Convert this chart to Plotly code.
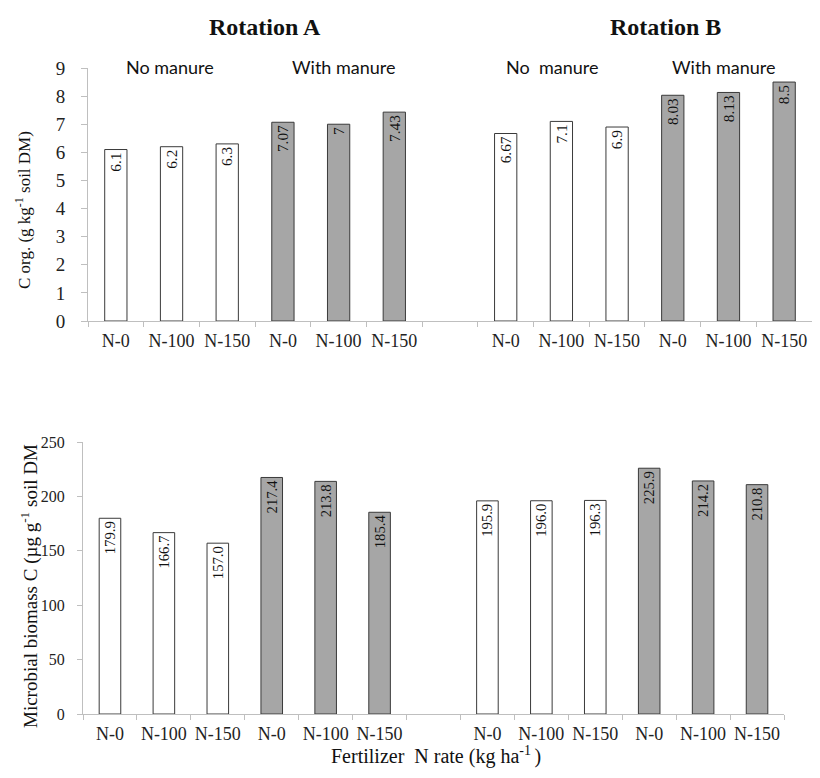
import plotly.graph_objects as go

W, H = 820, 778          # browser window
OFF = 8                  # default body margin of the html page
FW, FH = W - 2 * OFF, H - 2 * OFF   # figure fits the window without scrolling

# ---- data ----
n_labels = ["N-0", "N-100", "N-150", "N-0", "N-100", "N-150",
            "N-0", "N-100", "N-150", "N-0", "N-100", "N-150"]
with_manure = [False, False, False, True, True, True,
               False, False, False, True, True, True]
corg = [6.1, 6.2, 6.3, 7.07, 7.0, 7.43, 6.67, 7.1, 6.9, 8.03, 8.13, 8.5]
corg_text = ["6.1", "6.2", "6.3", "7.07", "7", "7.43",
             "6.67", "7.1", "6.9", "8.03", "8.13", "8.5"]
mbc = [179.9, 166.7, 157.0, 217.4, 213.8, 185.4,
       195.9, 196.0, 196.3, 225.9, 214.2, 210.8]
mbc_text = [f"{v:.1f}" for v in mbc]

# rotation B is separated from rotation A by one empty slot
positions = [i if i < 6 else i + 1 for i in range(len(n_labels))]
boundaries = [b - 0.5 for b in range(14)]

fills = ["#a6a6a6" if m else "#ffffff" for m in with_manure]
AX = "#bfbfbf"
SERIF = "Liberation Serif, Times New Roman, serif"
SANS = "Lato, Liberation Sans, sans-serif"


def px(x):
    return min(1.0, max(0.0, (x - OFF) / FW))


def py(y):
    return min(1.0, max(0.0, 1 - (y - OFF) / FH))


fig = go.Figure()
for vals, txt, xa, ya in [(corg, corg_text, "x", "y"), (mbc, mbc_text, "x2", "y2")]:
    fig.add_trace(go.Bar(
        x=positions, y=vals, text=txt, xaxis=xa, yaxis=ya, width=0.4,
        marker=dict(color=fills, line=dict(color="#3a3a3a", width=1)),
        textposition="inside", insidetextanchor="end", textangle=-90,
        insidetextfont=dict(family=SERIF, size=16, color="#111111"),
        hoverinfo="skip", showlegend=False,
    ))


def xaxis_style(domain, anchor, fsize):
    return dict(domain=domain, anchor=anchor, range=[-0.5, 12.5], automargin=False,
                tickmode="array", tickvals=positions, ticktext=n_labels,
                ticks="", showline=True, linecolor=AX, linewidth=1,
                showgrid=False, zeroline=False, ticklabelstandoff=3,
                ticklabeloverflow="allow",
                tickfont=dict(family=SERIF, size=fsize, color="#222222"),
                minor=dict(tickmode="array", tickvals=boundaries, ticks="outside",
                           ticklen=5, tickcolor=AX, tickwidth=1, showgrid=False))


def yaxis_style(domain, anchor, rng, dtick, fsize, tlen, standoff):
    return dict(domain=domain, anchor=anchor, range=rng, dtick=dtick, automargin=False,
                ticks="outside", ticklen=tlen, tickcolor=AX, tickwidth=1,
                showline=True, linecolor=AX, linewidth=1,
                showgrid=False, zeroline=False, ticklabelstandoff=standoff,
                tickfont=dict(family=SERIF, size=fsize, color="#222222"))


fig.update_layout(
    width=FW, height=FH, margin=dict(l=0, r=0, t=0, b=0, autoexpand=False),
    paper_bgcolor="white", plot_bgcolor="white", showlegend=False,
    xaxis=xaxis_style([px(88), px(812)], "y", 18),
    yaxis=yaxis_style([py(321), py(68)], "x", [0, 9], 1, 19, 6, 12),
    xaxis2=xaxis_style([px(83), px(784)], "y2", 18),
    yaxis2=yaxis_style([py(714), py(442)], "x2", [0, 250], 50, 16, 5, 9),
)

ann = []


def add(text, x, y, size, family, angle=0, bold=False):
    ann.append(dict(text=f"<b>{text}</b>" if bold else text, x=px(x), y=py(y),
                    xref="paper", yref="paper", showarrow=False, textangle=angle,
                    xanchor="center", yanchor="middle",
                    font=dict(family=family, size=size, color="#111111")))


add("Rotation A", 265, 27, 24, SERIF, bold=True)
add("Rotation B", 665, 27, 24, SERIF, bold=True)
add("No manure", 170, 67, 18, SANS)
add("With manure", 344, 67, 18, SANS)
add("No  manure", 552, 67, 18, SANS)
add("With manure", 724, 67, 18, SANS)
add("C org. (g kg<sup>-1</sup> soil DM)", 23, 210, 17, SERIF, angle=-90)
add("Microbial biomass C (µg g<sup>-1</sup> soil DM", 29, 586, 19, SERIF, angle=-90)
add("Fertilizer  N rate (kg ha<sup>-1 </sup>)", 436, 755, 20, SERIF)
fig.update_layout(annotations=ann)

fig.write_html("out.html")
